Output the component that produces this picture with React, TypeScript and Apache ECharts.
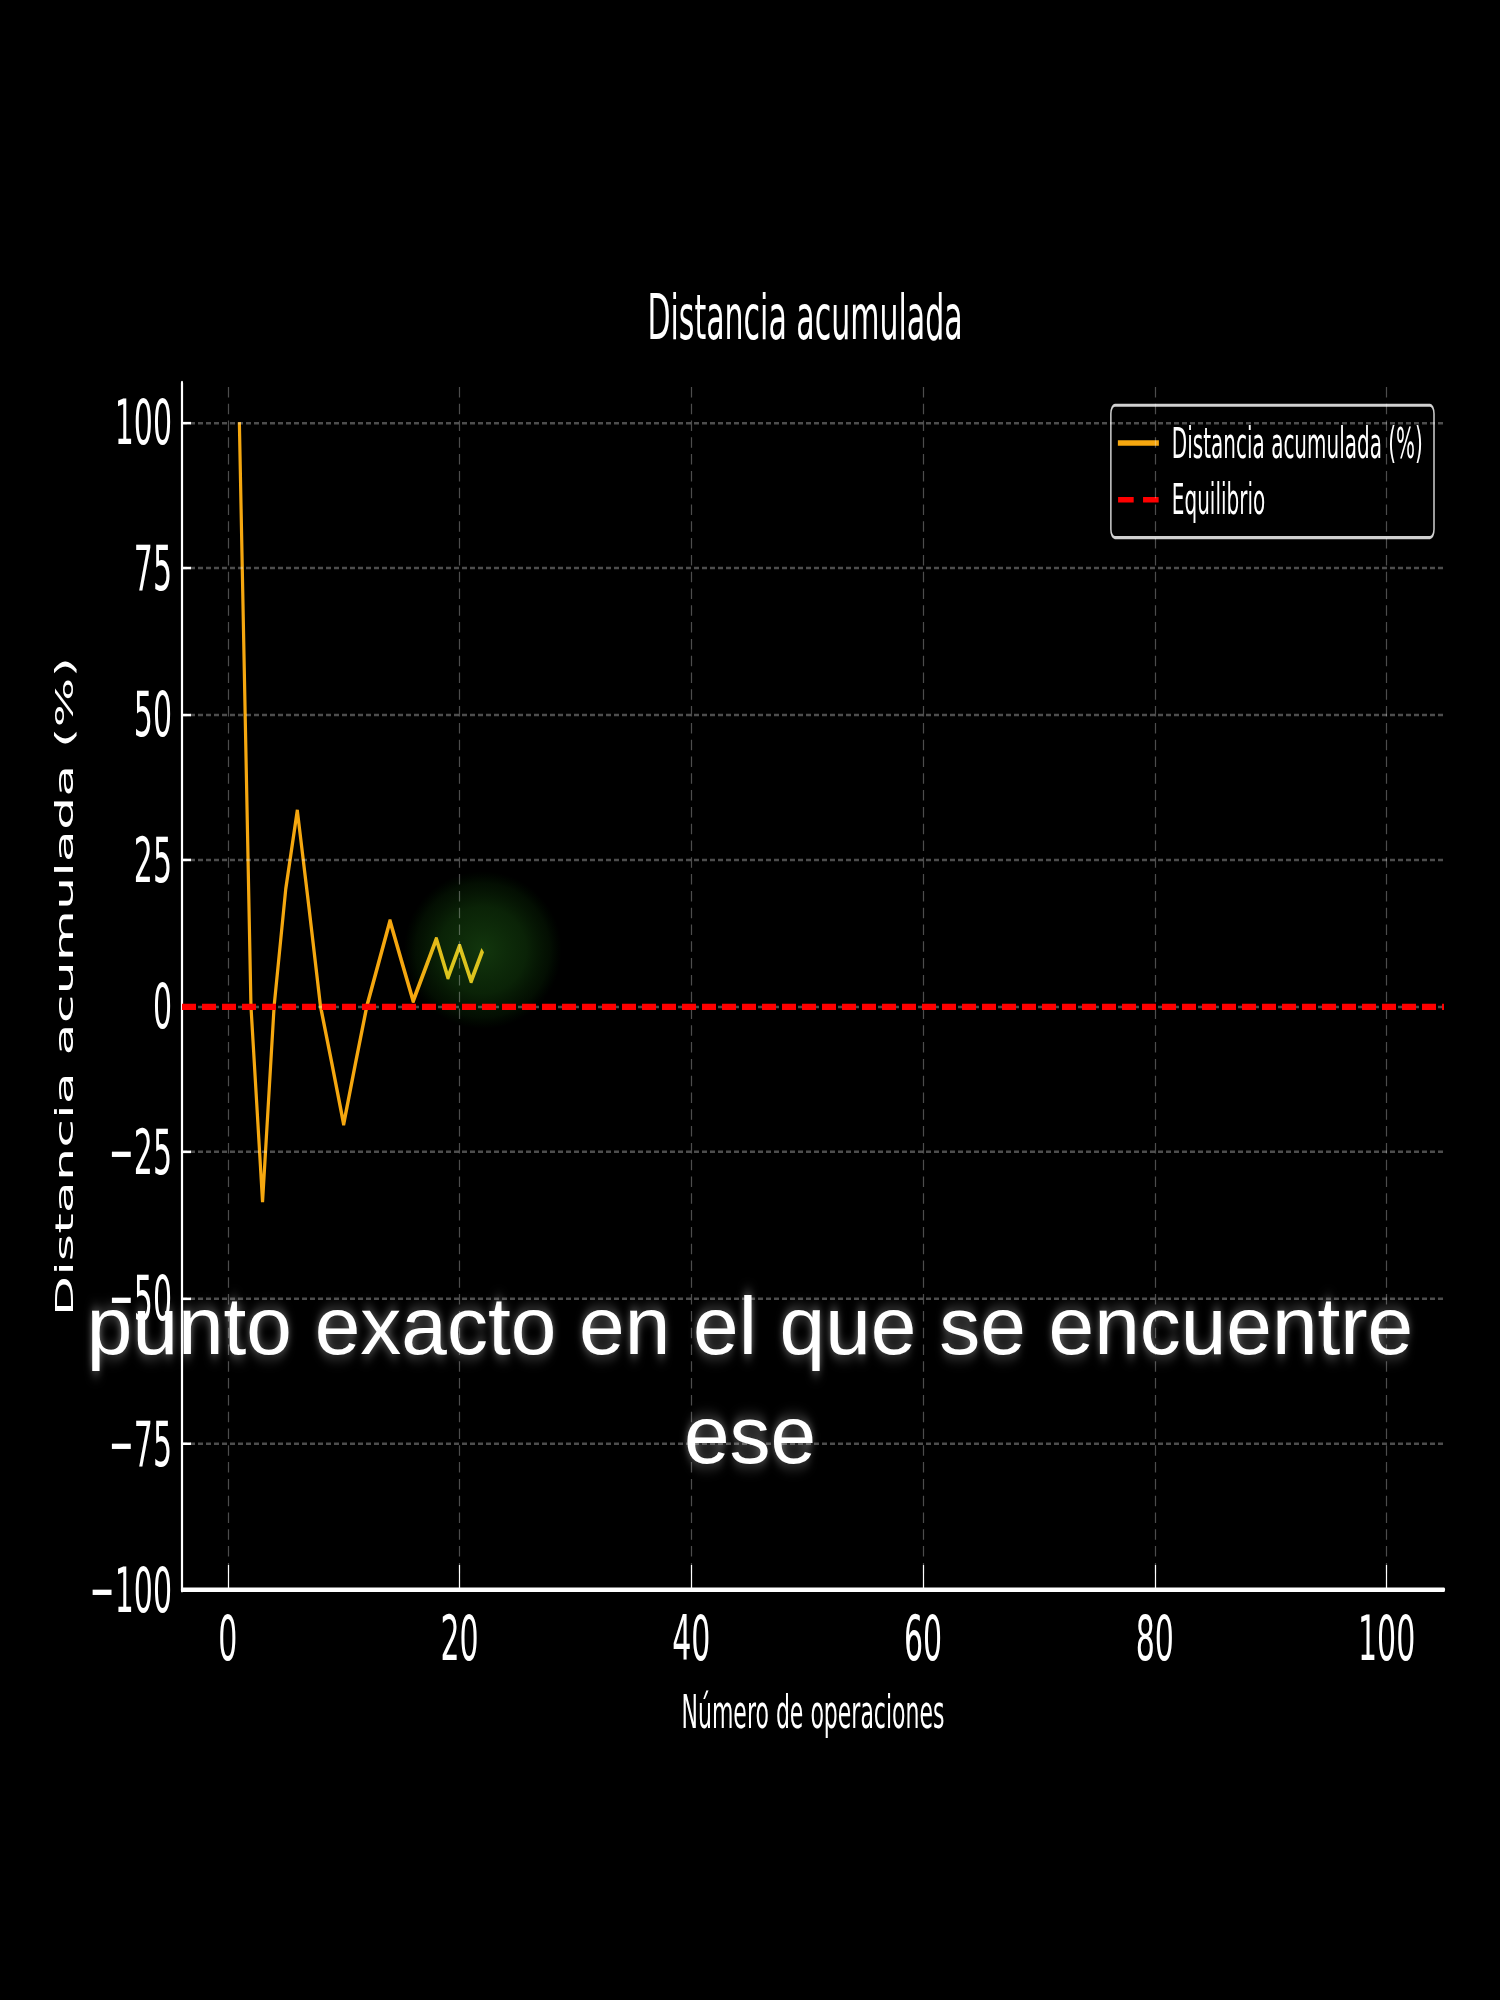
import React, { useEffect, useRef } from 'react';
import * as echarts from 'echarts';

// the whole figure in the reference is stretched vertically; draw it flat and stretch it back
const STRETCH = 2.1;
const PAGE_W = 1500;
const PAGE_H = 2000;
const CHART_H = PAGE_H / STRETCH;

const operaciones = [1, 2, 3, 4, 5, 6, 7, 8, 9, 10, 11, 12, 13, 14, 15, 16, 17, 18, 19, 20, 21, 22];
const distancia = [100, 0, -33.5, 0, 20, 33.5, 17, 0, -10, -20.2, -10, 0, 7.3, 14.6, 7.7, 0.9, 6.2, 11.5, 4.9, 10.3, 4.3, 9.6];

const xTicks = [0, 20, 40, 60, 80, 100];
const yTicks = [-100, -75, -50, -25, 0, 25, 50, 75, 100];
const xRange = [-3.95, 104.95];
const yRange = [-100, 106.7];

const seriesName = 'Distancia acumulada (%)';
const equilibrioName = 'Equilibrio';
const equilibrioValue = 0;

const captionLines = ['punto exacto en el que se encuentre', 'ese'];

const FONT = 'DejaVu Sans';
const ORANGE = '#f5a70f';
const minus = (v: number) => String(v).replace('-', '\u2212');

const App = () => {
  const chartRef = useRef<HTMLDivElement>(null);

  useEffect(() => {
    const chart = echarts.init(chartRef.current!, undefined, { renderer: 'svg' });

    const lastX = operaciones[operaciones.length - 1];
    const lastY = distancia[distancia.length - 1];

    chart.setOption({
      animation: false,
      backgroundColor: '#000',
      title: {
        text: 'Distancia acumulada',
        left: 800,
        textAlign: 'center',
        top: 131,
        textStyle: { color: '#fff', fontFamily: FONT, fontSize: 30, fontWeight: 'normal' }
      },
      legend: {
        data: [
          { name: seriesName, icon: 'rect' },
          { name: equilibrioName, icon: 'path://M0,0H15V2.5H0Z M24,0H39V2.5H24Z' }
        ],
        orient: 'vertical',
        right: 66,
        top: 193,
        padding: [8, 11, 8, 7],
        itemGap: 7,
        itemWidth: 41,
        itemHeight: 2.6,
        backgroundColor: '#000',
        borderColor: '#d0d0d0',
        borderWidth: 1.5,
        borderRadius: 4,
        textStyle: { color: '#fff', fontFamily: FONT, fontSize: 20, padding: [0, 0, 0, 8] }
      },
      grid: {
        left: 182,
        right: 56,
        top: 383 / STRETCH,
        bottom: (PAGE_H - 1591) / STRETCH,
        containLabel: false,
        outerBoundsMode: 'none'
      },
      xAxis: {
        type: 'value',
        min: xRange[0],
        max: xRange[1],
        name: 'Número de operaciones',
        nameLocation: 'middle',
        nameGap: 47,
        nameTextStyle: { color: '#fff', fontFamily: FONT, fontSize: 22 },
        axisLine: { show: true, onZero: false, lineStyle: { color: '#fff', width: 2.2 } },
        axisTick: { show: true, inside: true, length: 12, customValues: xTicks, lineStyle: { color: '#fff', width: 1.2 } },
        axisLabel: { customValues: xTicks, color: '#fff', fontFamily: FONT, fontSize: 30, margin: 8, formatter: minus },
        splitLine: { show: false }
      },
      yAxis: {
        type: 'value',
        min: yRange[0],
        max: yRange[1],
        interval: 25,
        name: seriesName,
        nameLocation: 'middle',
        nameGap: 105,
        nameTextStyle: { color: '#fff', fontFamily: FONT, fontSize: 25 },
        axisLine: { show: true, onZero: false, lineStyle: { color: '#fff', width: 2.2 } },
        axisTick: { show: true, inside: true, length: 9, customValues: yTicks, lineStyle: { color: '#fff', width: 1.2 } },
        axisLabel: { customValues: yTicks, color: '#fff', fontFamily: FONT, fontSize: 30, margin: 10, formatter: minus },
        splitLine: { show: false }
      },
      series: [
        {
          name: 'grid',
          type: 'line',
          data: [],
          silent: true,
          z: 1,
          markLine: {
            silent: true,
            symbol: ['none', 'none'],
            label: { show: false },
            lineStyle: { color: 'rgba(255,255,255,0.3)', type: [5, 3], width: 1.2 },
            data: [...xTicks.map((v) => ({ xAxis: v })), ...yTicks.map((v) => ({ yAxis: v }))]
          }
        },
        {
          name: 'glow',
          type: 'scatter',
          data: [[lastX, lastY]],
          silent: true,
          z: 2,
          symbolSize: [158, 158 / STRETCH],
          itemStyle: {
            color: new echarts.graphic.RadialGradient(0.5, 0.5, 0.5, [
              { offset: 0, color: 'rgba(25,75,18,0.9)' },
              { offset: 0.55, color: 'rgba(18,62,12,0.7)' },
              { offset: 0.85, color: 'rgba(10,45,6,0.4)' },
              { offset: 1, color: 'rgba(0,35,0,0)' }
            ])
          }
        },
        {
          name: seriesName,
          type: 'line',
          data: operaciones.map((x, i) => [x, distancia[i]]),
          symbol: 'none',
          z: 4,
          color: ORANGE,
          lineStyle: {
            width: 3.2,
            // the stretch of line under the green glow looks yellow in the reference
            color: new echarts.graphic.LinearGradient(0, 0, 1, 0, [
              { offset: 0, color: ORANGE },
              { offset: 0.72, color: ORANGE },
              { offset: 0.85, color: '#dcc41e' },
              { offset: 1, color: '#dcc41e' }
            ])
          }
        },
        {
          name: equilibrioName,
          type: 'line',
          data: [],
          symbol: 'none',
          z: 3,
          color: '#ff0000',
          lineStyle: { color: '#ff0000', width: 3, type: [14, 6] },
          markLine: {
            silent: true,
            symbol: ['none', 'none'],
            label: { show: false },
            lineStyle: { color: '#ff0000', type: [14, 6], width: 3 },
            data: [{ yAxis: equilibrioValue }]
          }
        }
      ],
      graphic: captionLines.map((line, i) => ({
        type: 'text',
        x: PAGE_W / 2,
        y: (1326 + i * 109) / STRETCH,
        scaleY: 1 / STRETCH,
        z: 100,
        style: {
          text: line,
          fill: '#fff',
          fontFamily: 'Liberation Sans',
          fontSize: 82,
          align: 'center',
          verticalAlign: 'middle',
          textAlign: 'center',
          textVerticalAlign: 'middle',
          textShadowColor: 'rgba(255,255,255,0.5)',
          textShadowBlur: 7
        }
      }))
    });

    return () => {
      chart.dispose();
    };
  }, []);

  return (
    <div style={{ position: 'absolute', left: 0, top: 0, width: PAGE_W, height: PAGE_H, background: '#000', overflow: 'hidden' }}>
      <div
        ref={chartRef}
        style={{ width: PAGE_W, height: CHART_H, transform: `scaleY(${STRETCH})`, transformOrigin: '0 0' }}
      ></div>
    </div>
  );
};

export default App;
